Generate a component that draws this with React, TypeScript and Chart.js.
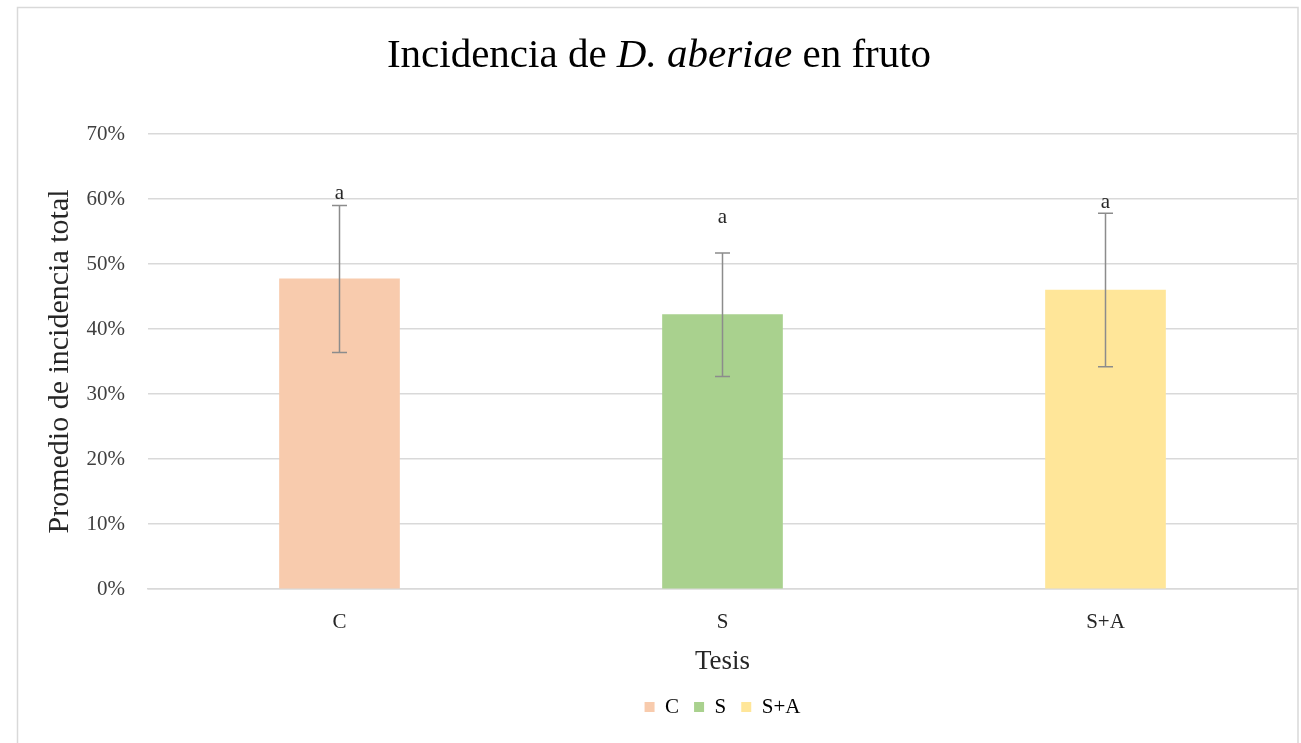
import React, { useEffect, useRef } from "react";
import { Chart, registerables } from "chart.js";

Chart.register(...registerables);

const categories = ["C", "S", "S+A"];
const means = [0.477, 0.422, 0.46];
const errors = [0.113, 0.095, 0.118];
const letters = ["a", "a", "a"];
const letterPos = [0.609, 0.571, 0.594];
const colors = ["#F8CBAD", "#A9D18E", "#FFE699"];
const yTicks = [0, 0.1, 0.2, 0.3, 0.4, 0.5, 0.6, 0.7];

const SERIF = "'Liberation Serif', 'Times New Roman', serif";

const extrasPlugin = {
  id: "extras",
  afterDatasetsDraw(chart: any) {
    const ctx = chart.ctx;
    const x = chart.scales.x;
    const y = chart.scales.y;
    ctx.save();
    ctx.strokeStyle = "#8C8C8C";
    ctx.lineWidth = 1.5;
    means.forEach((m, i) => {
      const cx = x.getPixelForValue(i);
      const top = y.getPixelForValue(m + errors[i]);
      const bot = y.getPixelForValue(m - errors[i]);
      ctx.beginPath();
      ctx.moveTo(cx, top);
      ctx.lineTo(cx, bot);
      ctx.moveTo(cx - 7.5, top);
      ctx.lineTo(cx + 7.5, top);
      ctx.moveTo(cx - 7.5, bot);
      ctx.lineTo(cx + 7.5, bot);
      ctx.stroke();
    });
    ctx.fillStyle = "#262626";
    ctx.font = `21px ${SERIF}`;
    ctx.textAlign = "center";
    ctx.textBaseline = "middle";
    letters.forEach((l, i) => {
      ctx.fillText(l, x.getPixelForValue(i), y.getPixelForValue(letterPos[i]));
    });
    ctx.restore();
  },
  afterDraw(chart: any) {
    const ctx = chart.ctx;
    ctx.save();
    const parts = [
      { t: "Incidencia de ", it: false },
      { t: "D. aberiae", it: true },
      { t: " en fruto", it: false },
    ];
    const size = 41;
    let total = 0;
    const widths = parts.map((p) => {
      ctx.font = `${p.it ? "italic " : ""}${size}px ${SERIF}`;
      const w = ctx.measureText(p.t).width;
      total += w;
      return w;
    });
    let xx = 659 - total / 2;
    ctx.fillStyle = "#000000";
    ctx.textBaseline = "middle";
    ctx.textAlign = "left";
    parts.forEach((p, i) => {
      ctx.font = `${p.it ? "italic " : ""}${size}px ${SERIF}`;
      ctx.fillText(p.t, xx, 56);
      xx += widths[i];
    });
    ctx.strokeStyle = "#D9D9D9";
    ctx.lineWidth = 1.5;
    ctx.strokeRect(17.5, 7.5, 1280.5, 745);
    ctx.restore();
  },
};

export default function App() {
  const ref = useRef<HTMLCanvasElement>(null);
  useEffect(() => {
    if (!ref.current) return;
    const chart = new Chart(ref.current, {
      type: "bar",
      data: {
        labels: categories,
        datasets: [
          {
            label: "Promedio",
            data: means,
            backgroundColor: colors,
            borderWidth: 0,
            barThickness: 120,
          },
        ],
      },
      options: {
        responsive: false,
        animation: false,
        devicePixelRatio: 1,
        layout: { padding: { top: 134, left: 17, right: 4, bottom: 15.5 } },
        plugins: {
          title: { display: false },
          tooltip: { enabled: false },
          legend: {
            display: true,
            position: "bottom",
            fullSize: false,
            labels: {
              boxWidth: 10,
              boxHeight: 10,
              padding: 15,
              color: "#262626",
              font: { family: SERIF, size: 21 },
              generateLabels: () =>
                categories.map((c, i) => ({
                  text: c,
                  fillStyle: colors[i],
                  strokeStyle: colors[i],
                  lineWidth: 0,
                  hidden: false,
                  index: i,
                  datasetIndex: 0,
                })),
            },
          },
        },
        scales: {
          x: {
            grid: { display: false, drawTicks: false },
            border: { display: true, color: "#D9D9D9", width: 1.5 },
            ticks: {
              color: "#262626",
              font: { family: SERIF, size: 21 },
              padding: 21,
            },
            title: {
              display: true,
              text: "Tesis",
              color: "#262626",
              font: { family: SERIF, size: 27 },
              padding: { top: -10.4, bottom: 3.3 },
            },
          },
          y: {
            min: 0,
            max: 0.7,
            afterBuildTicks: (axis: any) => {
              axis.ticks = yTicks.map((v) => ({ value: v }));
            },
            afterFit: (axis: any) => {
              axis.width = 131;
            },
            grid: { color: "#D9D9D9", lineWidth: 1.5, drawTicks: false },
            border: { display: false },
            ticks: {
              color: "#404040",
              font: { family: SERIF, size: 21 },
              padding: 23,
              callback: (v: any) => `${Math.round(Number(v) * 100)}%`,
            },
            title: {
              display: true,
              text: "Promedio de incidencia total",
              color: "#262626",
              font: { family: SERIF, size: 30 },
              padding: { top: 25, bottom: 0 },
            },
          },
        },
      },
      plugins: [extrasPlugin],
    });
    return () => chart.destroy();
  }, []);
  return (
    <div style={{ position: "fixed", left: 0, top: 0, width: 1301, height: 743, background: "#fff" }}>
      <canvas ref={ref} width={1301} height={743} />
    </div>
  );
}
